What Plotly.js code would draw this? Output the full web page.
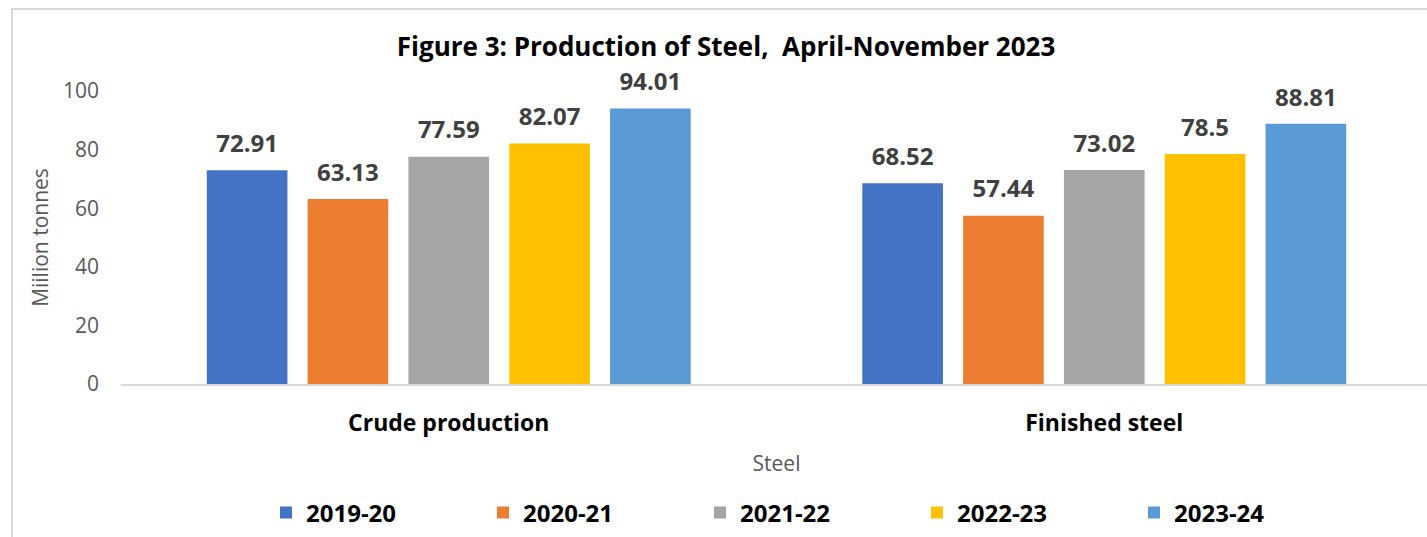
<!DOCTYPE html>
<html>
<head>
<meta charset="utf-8">
<script src="https://cdn.plot.ly/plotly-3.0.1.min.js"></script>
<style>
  html, body { margin: 0; padding: 0; background: #fff; overflow: hidden; width: 1427px; height: 537px; }
  #frame { position: absolute; left: 11px; top: 8px; width: 2000px; height: 1000px; border: 2px solid #d9d9d9; box-sizing: border-box; }
  #chart { position: absolute; left: 0; top: 0; width: 1432px; height: 537px; }
</style>
</head>
<body>
<div id="frame"></div>
<div id="chart"></div>
<script>
const categories = ["Crude production", "Finished steel"];
const seriesNames = ["2019-20", "2020-21", "2021-22", "2022-23", "2023-24"];
const v2019_20 = [72.91, 68.52];
const v2020_21 = [63.13, 57.44];
const v2021_22 = [77.59, 73.02];
const v2022_23 = [82.07, 78.5];
const v2023_24 = [94.01, 88.81];
const seriesValues = [v2019_20, v2020_21, v2021_22, v2022_23, v2023_24];
const colors = ["#4472C4", "#ED7D31", "#A5A5A5", "#FFC000", "#5B9BD5"];
const yTicks = [0, 20, 40, 60, 80, 100];

const FONT = "'Open Sans', 'Noto Sans', sans-serif";

const barTraces = seriesNames.map((name, i) => ({
  type: "bar",
  name: name,
  x: categories,
  y: seriesValues[i],
  marker: { color: colors[i] },
  hoverinfo: "skip"
}));

const labelTraces = seriesNames.map((name, i) => ({
  type: "scatter",
  mode: "markers+text",
  orientation: "v",
  x: categories,
  y: seriesValues[i],
  text: seriesValues[i].map(String),
  textposition: "top center",
  textfont: { family: FONT, size: 24, weight: 700, color: "#404040" },
  marker: { size: 18, color: "rgba(0,0,0,0)" },
  showlegend: false,
  hoverinfo: "skip",
  cliponaxis: false
}));

const layout = {
  width: 1432,
  height: 537,
  paper_bgcolor: "rgba(0,0,0,0)",
  plot_bgcolor: "rgba(0,0,0,0)",
  margin: { l: 121, r: 0, t: 91, b: 153 },
  barmode: "group",
  bargap: 0.231,
  bargroupgap: 0.2,
  scattermode: "group",
  scattergap: 0.231,
  title: {
    text: "Figure 3: Production of Steel,  April-November 2023",
    font: { family: FONT, size: 26, weight: 700, color: "#000000" },
    xref: "container", x: 0.507, xanchor: "center",
    yref: "container", y: 0.913, yanchor: "middle"
  },
  xaxis: {
    type: "category",
    showline: true, linecolor: "#d9d9d9", linewidth: 2,
    showgrid: false, zeroline: false, ticks: "",
    tickfont: { family: FONT, size: 23, weight: 700, color: "#000000" },
    ticklabelstandoff: 17,
    title: { text: "Steel", font: { family: FONT, size: 21, color: "#595959" }, standoff: 20 }
  },
  yaxis: {
    range: [0, 100],
    tickvals: yTicks,
    showline: false, showgrid: false, zeroline: false, ticks: "",
    tickfont: { family: FONT, size: 21, color: "#595959" },
    ticklabelstandoff: 21,
    title: { text: "Miilion tonnes", font: { family: FONT, size: 21, color: "#595959" }, standoff: 8 }
  },
  showlegend: true,
  legend: {
    orientation: "h",
    x: 0.5244, xanchor: "center", xref: "paper",
    y: -0.44, yanchor: "middle",
    font: { family: FONT, size: 24, weight: 700, color: "#000000" },
    entrywidth: 172,
    traceorder: "normal"
  }
};

Plotly.newPlot("chart", barTraces.concat(labelTraces), layout, { displayModeBar: false, staticPlot: true });
</script>
</body>
</html>
